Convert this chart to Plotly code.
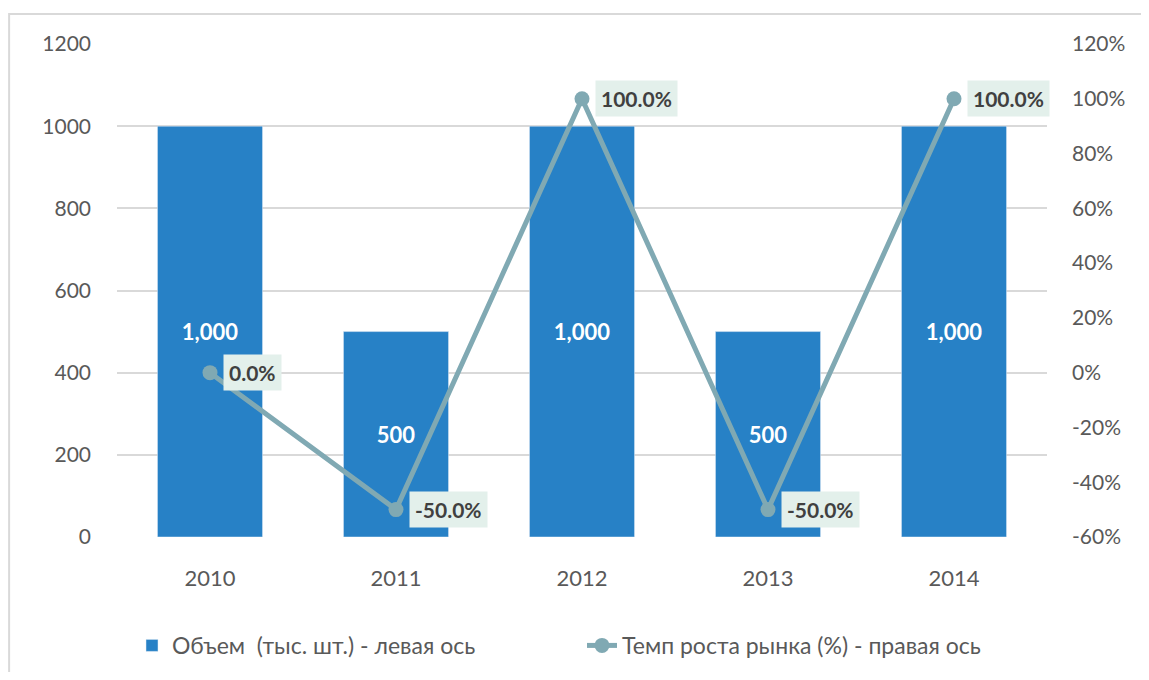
import plotly.graph_objects as go

years = [2010, 2011, 2012, 2013, 2014]
volume = [1000, 500, 1000, 500, 1000]
growth = [0.0, -0.5, 1.0, -0.5, 1.0]
left_ticks = [0, 200, 400, 600, 800, 1000, 1200]
right_ticks = [-0.6, -0.4, -0.2, 0.0, 0.2, 0.4, 0.6, 0.8, 1.0, 1.2]
right_labels = ["-60%", "-40%", "-20%", "0%", "20%", "40%", "60%", "80%", "100%", "120%"]

bar_name = "Объем  (тыс. шт.) - левая ось"
line_name = "Темп роста рынка (%) - правая ось"

BAR = "#2781C6"
LINE = "#80A9B3"
FONT = "Lato, Open Sans, sans-serif"

fig = go.Figure()
fig.add_trace(go.Bar(
    x=years, y=volume, name=bar_name, marker=dict(color=BAR), width=0.565,
    text=[f"<b>{v:,}</b>" for v in volume], textposition="inside", insidetextanchor="middle",
    textfont=dict(color="white", size=22, family=FONT),
))
fig.add_trace(go.Scatter(
    x=years, y=growth, name=line_name, yaxis="y2", mode="lines+markers",
    line=dict(color=LINE, width=5), marker=dict(color=LINE, size=15),
))

for x, g in zip(years, growth):
    fig.add_annotation(
        x=x, y=g, xref="x", yref="y2", text=f"<b>{g*100:.1f}%</b>", showarrow=False,
        xanchor="left", yanchor="middle", xshift=13,
        bgcolor="#E3F0EB", borderpad=5,
        font=dict(color="#404040", size=21, family=FONT),
    )

fig.add_shape(type="rect", xref="paper", yref="paper", x0=-0.116, x1=1.3, y0=-0.5, y1=1.061,
              line=dict(color="#D9D9D9", width=2), fillcolor="rgba(0,0,0,0)", layer="below")

fig.update_layout(
    width=1133, height=664,
    margin=dict(l=109, r=94, t=36, b=135, autoexpand=False),
    paper_bgcolor="white", plot_bgcolor="white",
    font=dict(family=FONT, color="#595959", size=21),
    showlegend=True,
    legend=dict(orientation="h", x=0.5, xanchor="center", y=-0.22, yanchor="middle",
                font=dict(size=23, color="#595959"), traceorder="normal",
                entrywidth=405, entrywidthmode="pixels"),
    xaxis=dict(range=[2009.5, 2014.5], tickvals=years, ticktext=[str(y) for y in years],
               showgrid=False, showline=False, zeroline=False, ticks="",
               tickfont=dict(size=22), ticklabelstandoff=26),
    yaxis=dict(range=[0, 1200], tickvals=left_ticks, showgrid=True, gridcolor="#D9D9D9",
               gridwidth=2, zeroline=False, showline=False, ticks="", tickfont=dict(size=21),
               ticklabelstandoff=25),
    yaxis2=dict(range=[-0.6, 1.2], tickvals=right_ticks, ticktext=right_labels,
                overlaying="y", side="right",
                showgrid=False, zeroline=False, showline=False,
                tickfont=dict(size=21), ticklabelstandoff=24),
)

fig.write_html("out.html")
